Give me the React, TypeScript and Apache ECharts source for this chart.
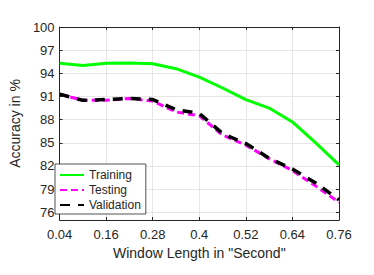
import React, { useEffect, useRef } from "react";
import * as echarts from "echarts";

const windowLengths = [0.04, 0.1, 0.16, 0.22, 0.28, 0.34, 0.4, 0.46, 0.52, 0.58, 0.64, 0.7, 0.76];
const training = [95.3, 95.0, 95.3, 95.35, 95.25, 94.6, 93.5, 92.1, 90.6, 89.5, 87.7, 85.0, 82.15];
const testing = [91.3, 90.5, 90.5, 90.75, 90.4, 89.0, 88.5, 86.0, 84.7, 82.95, 81.4, 79.4, 77.3];
const validation = [91.3, 90.5, 90.6, 90.75, 90.6, 89.3, 88.8, 86.2, 84.9, 83.0, 81.6, 79.8, 77.6];
const yTicks = [76, 79, 82, 85, 88, 91, 94, 97, 100];
const xTicks = [0.04, 0.16, 0.28, 0.4, 0.52, 0.64, 0.76];

const FONT = "'Liberation Sans', Arial, Helvetica, sans-serif";
const AX = "#262626";

export default function App() {
  const ref = useRef<HTMLDivElement>(null);
  useEffect(() => {
    if (!ref.current) return;
    const chart = echarts.init(ref.current, null, { renderer: "svg" });
    const pair = (ys: number[]) => windowLengths.map((x, i) => [x, ys[i]]);
    const xBase = {
      type: "value",
      min: 0.04,
      max: 0.76,
      interval: 0.12,
      axisLine: { show: true, onZero: false, lineStyle: { color: AX, width: 1 } },
      axisTick: { show: true, inside: true, length: 3, lineStyle: { color: AX } },
    };
    const yBase = {
      type: "value",
      min: 75,
      max: 100,
      axisLine: { show: true, onZero: false, lineStyle: { color: AX, width: 1 } },
      axisTick: { show: true, inside: true, length: 3, customValues: yTicks, lineStyle: { color: AX } },
    };
    chart.setOption({
      animation: false,
      backgroundColor: "#ffffff",
      textStyle: { fontFamily: FONT },
      grid: { left: 48, right: 35, top: 27, bottom: 55, containLabel: false },
      legend: {
        orient: "vertical",
        left: 55,
        top: 164,
        padding: [5, 5, 3, 4],
        itemWidth: 24,
        itemHeight: 12,
        itemGap: 3,
        backgroundColor: "#ffffff",
        borderColor: AX,
        borderWidth: 0.8,
        borderRadius: 0,
        itemStyle: { opacity: 0 },
        textStyle: { fontFamily: FONT, fontSize: 12, color: AX },
        data: ["Training", "Testing", "Validation"],
      },
      xAxis: [
        {
          ...xBase,
          position: "bottom",
          name: 'Window Length in "Second"',
          nameLocation: "middle",
          nameGap: 25,
          nameTextStyle: { fontFamily: FONT, fontSize: 14, color: AX },
          axisLabel: {
            show: true,
            margin: 8,
            fontFamily: FONT,
            fontSize: 13,
            color: AX,
            customValues: xTicks,
            formatter: (v: number) => String(Math.round(v * 100) / 100),
          },
          axisTick: { ...xBase.axisTick, customValues: xTicks },
          splitLine: { show: true, lineStyle: { color: "#e6e6e6", width: 1 } },
        },
        {
          ...xBase,
          position: "top",
          axisLabel: { show: false },
          axisTick: { ...xBase.axisTick, customValues: xTicks },
          splitLine: { show: false },
        },
      ],
      yAxis: [
        {
          ...yBase,
          position: "left",
          name: "Accuracy in %",
          nameLocation: "middle",
          nameGap: 31,
          nameTextStyle: { fontFamily: FONT, fontSize: 14, color: AX },
          axisLabel: {
            show: true,
            margin: 5,
            fontFamily: FONT,
            fontSize: 13,
            color: AX,
            customValues: yTicks,
          },
          splitLine: { show: true, lineStyle: { color: "#e6e6e6", width: 1 } },
        },
        {
          ...yBase,
          position: "right",
          axisLabel: { show: false },
          splitLine: { show: false },
        },
      ],
      series: [
        {
          name: "Training",
          type: "line",
          data: pair(training),
          symbol: "none",
          showSymbol: false,
          color: "#00ff00",
          lineStyle: { color: "#00ff00", width: 3 },
          z: 2,
        },
        {
          name: "Testing",
          type: "line",
          data: pair(testing),
          symbol: "none",
          showSymbol: false,
          color: "#ff00ff",
          lineStyle: { color: "#ff00ff", width: 3, type: [7, 4] },
          z: 3,
        },
        {
          name: "Validation",
          type: "line",
          data: pair(validation),
          symbol: "none",
          showSymbol: false,
          color: "#000000",
          lineStyle: { color: "#000000", width: 3.5, type: [10, 8] },
          z: 4,
        },
      ],
    } as any);
    return () => chart.dispose();
  }, []);
  return (
    <div
      ref={ref}
      style={{ position: "absolute", left: 0, top: 0, width: 374, height: 275 }}
    />
  );
}
